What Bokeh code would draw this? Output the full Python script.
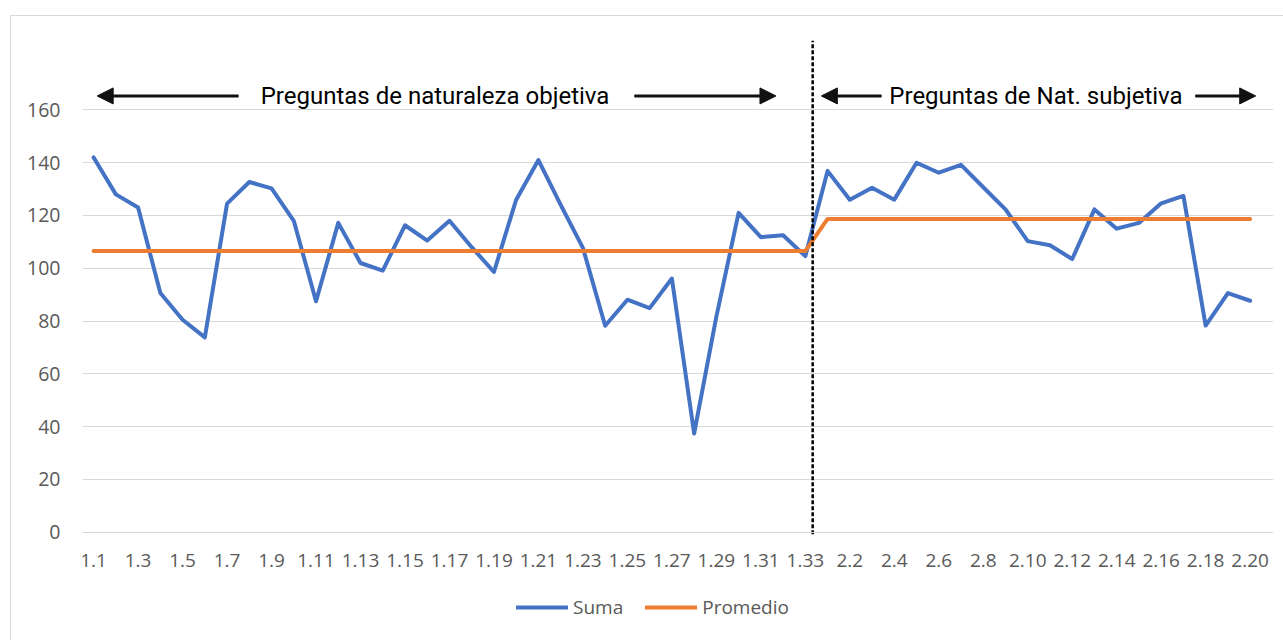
from bokeh.plotting import figure
from bokeh.models import (Range1d, FixedTicker, Label, Arrow,
                          NormalHead, Legend, LegendItem, ColumnDataSource)
from bokeh.embed import file_html
from bokeh.resources import INLINE

# ---- data ----
categories = ["1.%d" % i for i in range(1, 34)] + ["2.%d" % i for i in range(1, 21)]

suma = [142, 128, 123, 90.6, 80.5, 73.8, 124.5, 132.7, 130.3, 118,
        87.5, 117.2, 102, 99.1, 116.3, 110.5, 118, 108, 98.6, 126,
        141, 124, 107.7, 78.2, 88.1, 84.9, 96.1, 37.4, 81.7, 121,
        111.8, 112.5, 104.6,
        136.9, 126, 130.5, 126, 140, 136.2, 139.2, 130.7, 122.3, 110.3,
        108.7, 103.5, 122.3, 115, 117.2, 124.6, 127.4, 78.3, 90.6, 87.7]

promedio = [106.5, 106.5, 106.5, 106.5, 106.5, 106.5, 106.5, 106.5, 106.5, 106.5,
            106.5, 106.5, 106.5, 106.5, 106.5, 106.5, 106.5, 106.5, 106.5, 106.5,
            106.5, 106.5, 106.5, 106.5, 106.5, 106.5, 106.5, 106.5, 106.5, 106.5,
            106.5, 106.5, 106.5,
            118.7, 118.7, 118.7, 118.7, 118.7, 118.7, 118.7, 118.7, 118.7, 118.7,
            118.7, 118.7, 118.7, 118.7, 118.7, 118.7, 118.7, 118.7, 118.7, 118.7]

y_ticks = [0, 20, 40, 60, 80, 100, 120, 140, 160]
section_labels = ["Preguntas de naturaleza objetiva", "Preguntas de Nat. subjetiva"]

idx = list(range(len(categories)))
src = ColumnDataSource(dict(x=idx, suma=suma, promedio=promedio))

GRAY_TXT = "#595959"
GRID = "#D9D9D9"
Y_TOP = 186.3
Y_BOTTOM = -36.1

p = figure(width=1273, height=625, x_range=Range1d(-0.5, len(categories) + 0.05),
           y_range=Range1d(Y_BOTTOM, Y_TOP), output_backend="svg", toolbar_location=None,
           min_border_left=71, min_border_right=11, min_border_top=24,
           min_border_bottom=14)
p.margin = (15, 0, 0, 10)
p.styles = {"border-top": "1px solid #D9D9D9", "border-left": "1px solid #D9D9D9",
            "box-sizing": "border-box"}
p.outline_line_color = None
p.background_fill_color = "white"
p.border_fill_color = "white"

r_suma = p.line("x", "suma", source=src, line_color="#4472C4", line_width=4,
                line_join="round", line_cap="round")
r_prom = p.line("x", "promedio", source=src, line_color="#ED7D31", line_width=4,
                line_join="round", line_cap="round")

# axes
p.xgrid.grid_line_color = None
p.ygrid.grid_line_color = GRID
p.ygrid.grid_line_width = 1
p.yaxis.ticker = FixedTicker(ticks=y_ticks, minor_ticks=[])
p.yaxis.axis_line_color = None
p.yaxis.major_tick_line_color = None
p.yaxis.minor_tick_line_color = None
p.yaxis.major_label_standoff = 16
p.yaxis.major_label_text_font = "Open Sans"
p.yaxis.major_label_text_font_size = "19.5px"
p.yaxis.major_label_text_color = GRAY_TXT

even = [i for i in idx if i % 2 == 0]
p.xaxis.fixed_location = 0
p.xaxis.ticker = FixedTicker(ticks=even, minor_ticks=[])
p.xaxis.major_label_overrides = {i: categories[i] for i in even}
p.xaxis.axis_line_color = GRID
p.xaxis.major_tick_line_color = None
p.xaxis.minor_tick_line_color = None
p.xaxis.major_label_standoff = 16
p.xaxis.major_label_text_font = "Open Sans"
p.xaxis.major_label_text_font_size = "19px"
p.xaxis.major_label_text_color = GRAY_TXT

# divider between sections (between 1.33 and 2.1)
n1 = 33
xd = n1 - 0.67
p.segment(x0=[xd], y0=[-0.8], x1=[xd], y1=[Y_TOP], line_color="black",
          line_width=2.5, line_dash="4 2")

# section annotations
y_ann = 165.3
def arrow(x0, x1):
    p.add_layout(Arrow(x_start=x0, x_end=x1, y_start=y_ann, y_end=y_ann,
                       line_color="#111111", line_width=3,
                       end=NormalHead(size=16, fill_color="#111111", line_color="#111111")))

arrow(6.52, 0.16)
arrow(24.31, 30.68)
arrow(35.43, 32.72)
arrow(49.53, 52.25)

for xc, txt in [(15.35, section_labels[0]), (42.37, section_labels[1])]:
    p.add_layout(Label(x=xc, y=y_ann, text=txt, text_align="center",
                       text_baseline="middle", text_font="Roboto",
                       text_font_size="24px", text_color="black"))

legend = Legend(items=[LegendItem(label="Suma", renderers=[r_suma]),
                       LegendItem(label="Promedio", renderers=[r_prom])],
                orientation="horizontal", location=(434, 7),
                label_text_font="Open Sans", label_text_font_size="19px",
                label_text_color=GRAY_TXT, glyph_width=52, glyph_height=20,
                spacing=22, label_standoff=5, border_line_color=None,
                background_fill_alpha=0, margin=0, padding=0)
p.add_layout(legend, "center")

open("out.html", "w").write(file_html(p, INLINE))
